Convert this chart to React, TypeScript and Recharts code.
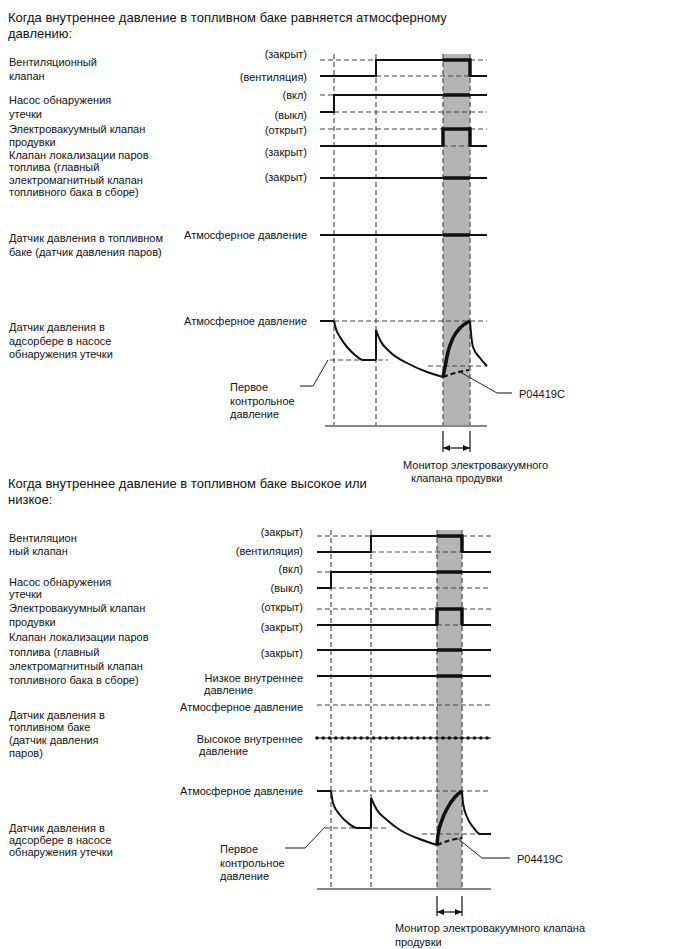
import React from 'react';
import { LineChart, Line, XAxis, YAxis, ReferenceArea, ReferenceDot } from 'recharts';

const FONT = 'Arial, "Liberation Sans", Helvetica, sans-serif';

// ---------- upper diagram: tank pressure equals atmospheric ----------
// time marks: start, pump on, vent closed, purge open, purge closed, end
const UP_EVENTS = [0, 14, 56, 123, 150, 167];
const UP_VENT = [20, 36]; // closed, vent
const UP_PUMP = [55, 72]; // on, off
const UP_PURGE = [89, 106]; // open, closed
const UP_FLAT = [138, 195]; // vapor valve closed, tank sensor atmospheric
const UP_CAN = [281, 320, 326, 386]; // atmospheric, first reference, second reference, base
const UP_DROP1 = [[14, 281], [16, 289], [20, 297], [27, 307], [35, 315], [43, 320], [56, 320]];
const UP_DROP2 = [[56, 290], [60, 300], [70, 312], [87, 323], [107, 332], [123, 337]];
const UP_RISE = [[123, 337], [125, 327], [128, 312], [133, 298], [140, 288], [150, 281]];
const UP_DROP3 = [[150, 281], [151, 293], [153, 307], [160, 318], [167, 326]];
const UP_LEAK = [[123, 337], [135, 333], [149, 330]];
const UP_REF_SPANS = [[10, 68], [108, 167]];
const UP_LEADER_FIRST = [[8, 320], [-7, 346], [-20, 346]];
const UP_LEADER_CODE = [[140, 332], [177, 353], [192, 353]];
const UP_FRAME = [14, 386, 408, 391, 412]; // guide top, base, arrow, tick top, tick bottom

// ---------- lower diagram: tank pressure high or low ----------
const LOW_EVENTS = [0, 14, 54, 120, 145, 174];
const LOW_VENT = [16, 32];
const LOW_PUMP = [52, 68];
const LOW_PURGE = [89, 105];
const LOW_FLAT = [130, 156]; // vapor valve closed, low internal pressure
const LOW_ATM = [185]; // atmospheric (dashed)
const LOW_HIGH = [218]; // high internal pressure (dotted)
const LOW_CAN = [271, 308, 314, 369];
const LOW_DROP1 = [[14, 271], [16, 283], [23, 295], [31, 303], [40, 308], [54, 308]];
const LOW_DROP2 = [[54, 278], [60, 290], [70, 300], [83, 310], [100, 318], [120, 325]];
const LOW_RISE = [[120, 325], [121, 315], [125, 300], [131, 287], [138, 277], [145, 271]];
const LOW_DROP3 = [[145, 271], [146, 283], [150, 297], [156, 307], [163, 314], [174, 314]];
const LOW_LEAK = [[120, 325], [134, 320], [145, 318]];
const LOW_REF_SPANS = [[8, 70], [105, 174]];
const LOW_LEADER_FIRST = [[8, 307], [-12, 328], [-32, 328]];
const LOW_LEADER_CODE = [[140, 318], [165, 338], [193, 338]];
const LOW_FRAME = [10, 369, 392, 376, 396];

// ---------- texts: [text, x, centre y, align] ----------
type Txt = [string, number, number, 'l' | 'r'];
const TITLES: Txt[] = [
  ['Когда внутреннее давление в топливном баке равняется атмосферному', 8, 17, 'l'],
  ['давлению:', 8, 33, 'l'],
  ['Когда внутреннее давление в топливном баке высокое или', 8, 483, 'l'],
  ['низкое:', 8, 499, 'l'],
];
const UP_TEXTS: Txt[] = [
  ['Вентиляционный', 9, 62, 'l'],
  ['клапан', 9, 76, 'l'],
  ['Насос обнаружения', 9, 100, 'l'],
  ['утечки', 9, 114, 'l'],
  ['Электровакуумный клапан', 9, 129, 'l'],
  ['продувки', 9, 142, 'l'],
  ['Клапан локализации паров', 9, 155, 'l'],
  ['топлива (главный', 9, 167, 'l'],
  ['электромагнитный клапан', 9, 180, 'l'],
  ['топливного бака в сборе)', 9, 192, 'l'],
  ['Датчик давления в топливном', 9, 238, 'l'],
  ['баке (датчик давления паров)', 9, 252, 'l'],
  ['Датчик давления в', 9, 327, 'l'],
  ['адсорбере в насосе', 9, 341, 'l'],
  ['обнаружения утечки', 9, 354, 'l'],
  ['(закрыт)', 307, 54, 'r'],
  ['(вентиляция)', 307, 77, 'r'],
  ['(вкл)', 307, 95, 'r'],
  ['(выкл)', 307, 115, 'r'],
  ['(открыт)', 307, 130, 'r'],
  ['(закрыт)', 307, 152, 'r'],
  ['(закрыт)', 307, 177, 'r'],
  ['Атмосферное давление', 307, 235, 'r'],
  ['Атмосферное давление', 307, 321, 'r'],
  ['Первое', 230, 387, 'l'],
  ['контрольное', 230, 401, 'l'],
  ['давление', 230, 414, 'l'],
  ['P04419C', 519, 394, 'l'],
  ['Монитор электровакуумного', 403, 465, 'l'],
  ['клапана продувки', 411, 478, 'l'],
];
const LOW_TEXTS: Txt[] = [
  ['Вентиляцион', 9, 538, 'l'],
  ['ный клапан', 9, 551, 'l'],
  ['Насос обнаружения', 9, 582, 'l'],
  ['утечки', 9, 594, 'l'],
  ['Электровакуумный клапан', 9, 608, 'l'],
  ['продувки', 9, 622, 'l'],
  ['Клапан локализации паров', 9, 637, 'l'],
  ['топлива (главный', 9, 652, 'l'],
  ['электромагнитный клапан', 9, 666, 'l'],
  ['топливного бака в сборе)', 9, 680, 'l'],
  ['Датчик давления в', 9, 715, 'l'],
  ['топливном баке', 9, 727, 'l'],
  ['(датчик давления', 9, 740, 'l'],
  ['паров)', 9, 753, 'l'],
  ['Датчик давления в', 9, 828, 'l'],
  ['адсорбере в насосе', 9, 840, 'l'],
  ['обнаружения утечки', 9, 852, 'l'],
  ['(закрыт)', 303, 532, 'r'],
  ['(вентиляция)', 303, 551, 'r'],
  ['(вкл)', 303, 569, 'r'],
  ['(выкл)', 303, 588, 'r'],
  ['(открыт)', 303, 607, 'r'],
  ['(закрыт)', 303, 627, 'r'],
  ['(закрыт)', 303, 653, 'r'],
  ['Низкое внутреннее', 303, 678, 'r'],
  ['давление', 204, 690, 'l'],
  ['Атмосферное давление', 303, 707, 'r'],
  ['Высокое внутреннее', 303, 739, 'r'],
  ['давление', 199, 751, 'l'],
  ['Атмосферное давление', 303, 791, 'r'],
  ['Первое', 220, 849, 'l'],
  ['контрольное', 220, 863, 'l'],
  ['давление', 220, 876, 'l'],
  ['P04419C', 517, 859, 'l'],
  ['Монитор электровакуумного клапана', 395, 928, 'l'],
  ['продувки', 395, 942, 'l'],
];

type Pt = { t: number; y: number };
type Seg = { data: Pt[]; w: number; color: string; dash?: string; curve?: 'linear' | 'monotone'; cap?: 'round' | 'butt' };

const pts = (a: number[][]): Pt[] => a.map(([t, y]) => ({ t, y }));
const hl = (t1: number, t2: number, y: number): Pt[] => [{ t: t1, y }, { t: t2, y }];
const vl = (t: number, y1: number, y2: number): Pt[] => [{ t, y: y1 }, { t, y: y2 }];

const BLACK = '#111';
const DASH = '#444';
const GREY = '#888';

interface DiagramProps {
  events: number[];
  vent: number[];
  pump: number[];
  purge: number[];
  flat: number[];
  atmDashed?: number[];
  dotted?: number[];
  can: number[];
  drop1: number[][];
  drop2: number[][];
  rise: number[][];
  drop3: number[][];
  leak: number[][];
  refSpans: number[][];
  leaderFirst: number[][];
  leaderCode: number[][];
  frame: number[];
  baseStart: number;
  domainX: [number, number];
  domainY: [number, number];
  left: number;
  right: number;
  top: number;
}

const Diagram: React.FC<DiagramProps> = (p) => {
  const [t0, t1, t2, t3, t4, tEnd] = p.events;
  const [vC, vO] = p.vent;
  const [pOn, pOff] = p.pump;
  const [gO, gC] = p.purge;
  const [atm, ref1, ref2, base] = p.can;
  const [gTop, gBase, arrowY, tickTop, tickBot] = p.frame;

  const segs: Seg[] = [];
  const dashed = (data: Pt[]) => segs.push({ data, w: 1.1, color: DASH, dash: '5 3' });
  const solid = (data: Pt[], w = 2) => segs.push({ data, w, color: BLACK });

  // guides
  [t1, t2, t3, t4].forEach((t) => dashed(vl(t, gTop, gBase)));

  // dashed reference levels
  dashed(hl(t0, t2, vC));
  dashed(hl(t2, t4, vO));
  dashed(hl(t4, tEnd, vC));
  dashed(hl(t0, t1, pOn));
  dashed(hl(t1, tEnd, pOff));
  dashed(hl(t0, t3, gO));
  dashed(hl(t4, tEnd, gO));
  dashed(hl(t3, t4, gC));
  (p.atmDashed || []).forEach((y) => dashed(hl(t0, tEnd, y)));
  dashed(hl(t1, tEnd, atm));
  dashed(hl(p.refSpans[0][0], p.refSpans[0][1], ref1));
  dashed(hl(p.refSpans[1][0], p.refSpans[1][1], ref2));

  // signals
  solid([{ t: t0, y: vO }, { t: t2, y: vO }, { t: t2, y: vC }, { t: t4, y: vC }, { t: t4, y: vO }, { t: tEnd, y: vO }]);
  solid([{ t: t0, y: pOff }, { t: t1, y: pOff }, { t: t1, y: pOn }, { t: tEnd, y: pOn }]);
  solid([{ t: t0, y: gC }, { t: t3, y: gC }, { t: t3, y: gO }, { t: t4, y: gO }, { t: t4, y: gC }, { t: tEnd, y: gC }]);
  p.flat.forEach((y) => solid(hl(t0, tEnd, y)));

  // thick parts inside the monitor window
  solid([{ t: t3, y: vC }, { t: t4, y: vC }, { t: t4, y: vO }], 3.5);
  solid(hl(t3, t4, pOn), 3.5);
  solid([{ t: t3, y: gC }, { t: t3, y: gO }, { t: t4, y: gO }, { t: t4, y: gC }], 3.5);
  p.flat.forEach((y) => solid(hl(t3, t4, y), 3.5));

  // dotted high pressure
  (p.dotted || []).forEach((y) => {
    segs.push({ data: hl(t0, tEnd, y), w: 1, color: BLACK });
    segs.push({ data: hl(t0, tEnd, y), w: 3.6, color: BLACK, dash: '0 6.3', cap: 'round' });
  });

  // canister pressure
  solid(hl(t0, t1, atm));
  segs.push({ data: pts(p.drop1), w: 2, color: BLACK, curve: 'monotone' });
  solid(vl(t2, ref1, p.drop2[0][1]));
  segs.push({ data: pts(p.drop2), w: 2, color: BLACK, curve: 'monotone' });
  segs.push({ data: pts(p.rise), w: 3.5, color: BLACK, curve: 'monotone' });
  segs.push({ data: pts(p.drop3), w: 2, color: BLACK, curve: 'monotone' });
  segs.push({ data: pts(p.leak), w: 2.2, color: BLACK, dash: '5 3', curve: 'monotone' });

  // base line, leaders
  segs.push({ data: hl(p.baseStart, tEnd, base), w: 2, color: GREY });
  segs.push({ data: pts(p.leaderFirst.slice(0, 2)), w: 1, color: '#222' });
  segs.push({ data: pts(p.leaderFirst.slice(1)), w: 2, color: GREY });
  segs.push({ data: pts(p.leaderCode.slice(0, 2)), w: 1, color: '#222' });
  segs.push({ data: pts(p.leaderCode.slice(1)), w: 2, color: GREY });

  // monitor bracket
  solid(vl(t3, tickTop, tickBot), 1.2);
  solid(vl(t4, tickTop, tickBot), 1.2);
  solid(hl(t3, t4, arrowY), 1.2);

  const height = p.domainY[1] - p.domainY[0];
  const arrowLeft = (props: any) => (
    <path d={`M${props.cx},${props.cy} l7,-3 l0,6 z`} fill={BLACK} />
  );
  const arrowRight = (props: any) => (
    <path d={`M${props.cx},${props.cy} l-7,-3 l0,6 z`} fill={BLACK} />
  );

  return (
    <div style={{ position: 'absolute', left: 0, top: p.top }}>
      <LineChart width={688} height={height} margin={{ top: 0, bottom: 0, left: p.left, right: p.right }}>
        <XAxis type="number" dataKey="t" domain={p.domainX} hide allowDataOverflow />
        <YAxis type="number" dataKey="y" domain={p.domainY} reversed hide allowDataOverflow />
        <ReferenceArea x1={t3} x2={t4} y1={gTop} y2={gBase} fill="#b4b4b4" fillOpacity={1} stroke="none" />
        {segs.map((s, i) => (
          <Line
            key={i}
            data={s.data}
            dataKey="y"
            type={s.curve || 'linear'}
            stroke={s.color}
            strokeWidth={s.w}
            strokeDasharray={s.dash}
            strokeLinecap={s.cap || 'butt'}
            dot={false}
            activeDot={false}
            legendType="none"
            isAnimationActive={false}
          />
        ))}
        <ReferenceDot x={t3} y={arrowY} r={0} shape={arrowLeft} />
        <ReferenceDot x={t4} y={arrowY} r={0} shape={arrowRight} />
      </LineChart>
    </div>
  );
};

const TextRow: React.FC<{ t: Txt; size: number }> = ({ t, size }) => {
  const [text, x, cy, align] = t;
  const style: React.CSSProperties = {
    position: 'absolute',
    top: cy - size * 0.5,
    fontSize: size,
    lineHeight: `${size}px`,
    whiteSpace: 'nowrap',
    color: '#111',
  };
  if (align === 'r') style.right = 688 - x;
  else style.left = x;
  return <div style={style}>{text}</div>;
};

export default function App() {
  return (
    <div
      style={{
        position: 'absolute',
        left: 0,
        top: 0,
        width: 688,
        height: 949,
        background: '#fff',
        fontFamily: FONT,
        overflow: 'hidden',
      }}
    >
      <Diagram
        events={UP_EVENTS}
        vent={UP_VENT}
        pump={UP_PUMP}
        purge={UP_PURGE}
        flat={UP_FLAT}
        can={UP_CAN}
        drop1={UP_DROP1}
        drop2={UP_DROP2}
        rise={UP_RISE}
        drop3={UP_DROP3}
        leak={UP_LEAK}
        refSpans={UP_REF_SPANS}
        leaderFirst={UP_LEADER_FIRST}
        leaderCode={UP_LEADER_CODE}
        frame={UP_FRAME}
        baseStart={5}
        domainX={[-30, 200]}
        domainY={[0, 430]}
        left={290}
        right={168}
        top={40}
      />
      <Diagram
        events={LOW_EVENTS}
        vent={LOW_VENT}
        pump={LOW_PUMP}
        purge={LOW_PURGE}
        flat={LOW_FLAT}
        atmDashed={LOW_ATM}
        dotted={LOW_HIGH}
        can={LOW_CAN}
        drop1={LOW_DROP1}
        drop2={LOW_DROP2}
        rise={LOW_RISE}
        drop3={LOW_DROP3}
        leak={LOW_LEAK}
        refSpans={LOW_REF_SPANS}
        leaderFirst={LOW_LEADER_FIRST}
        leaderCode={LOW_LEADER_CODE}
        frame={LOW_FRAME}
        baseStart={0}
        domainX={[-40, 200]}
        domainY={[0, 410]}
        left={277}
        right={171}
        top={520}
      />
      {TITLES.map((t, i) => (
        <TextRow key={`h${i}`} t={t} size={13} />
      ))}
      {UP_TEXTS.concat(LOW_TEXTS).map((t, i) => (
        <TextRow key={`l${i}`} t={t} size={11} />
      ))}
    </div>
  );
}
